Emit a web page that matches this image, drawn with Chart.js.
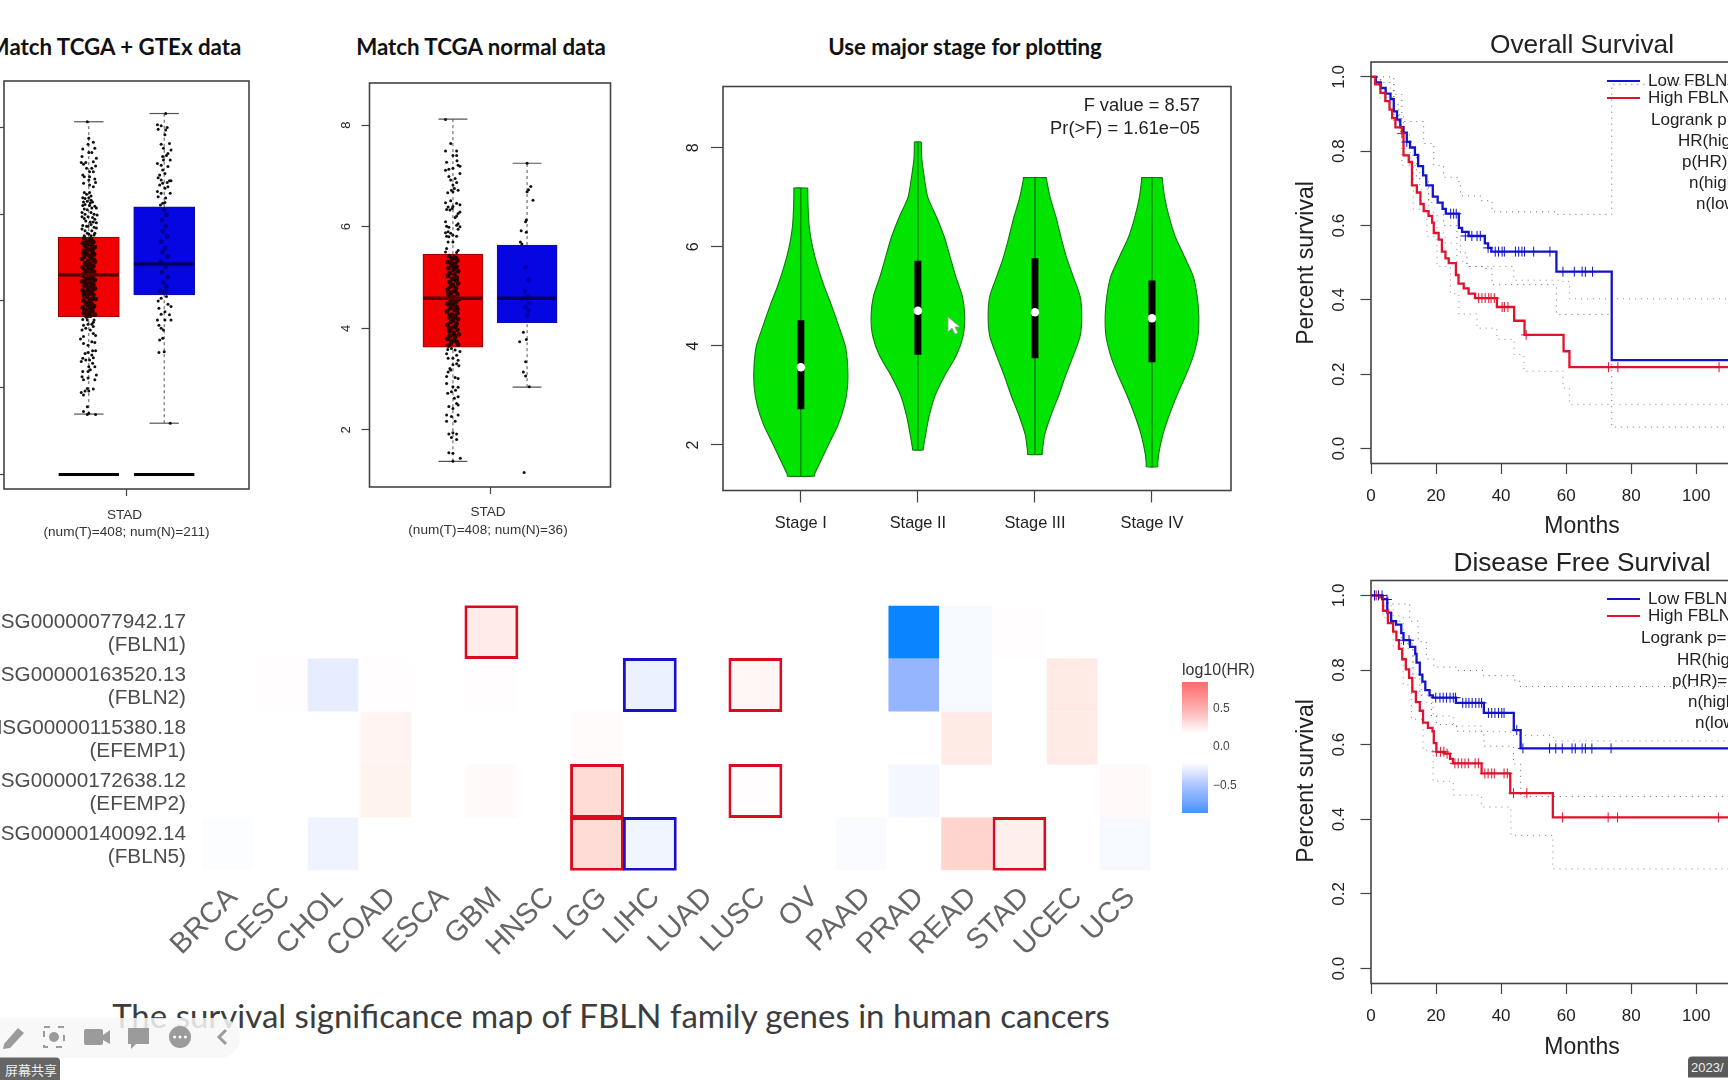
<!DOCTYPE html>
<html>
<head>
<meta charset="utf-8">
<title>FBLN survival figures</title>
<script src="https://cdn.jsdelivr.net/npm/chart.js@4"></script>
<style>
html, body { margin: 0; width: 1728px; height: 1080px; overflow: hidden; background: #fff; position: relative; }
canvas { position: absolute; filter: blur(.4px); }
.t { position: absolute; white-space: nowrap; font-family: "Liberation Sans", sans-serif; color: #222; transform: translate(-50%, -50%); }
.l { transform: translate(0, -50%); }
</style>
</head>
<body>
<script>
// box stats: low whisker, q1, median, q3, high whisker
const gtexTumor = [1.39, 3.63, 4.60, 5.47, 8.13];
const gtexNormal = [1.18, 4.14, 4.85, 6.17, 8.32];
const tcgaTumor = [1.38, 3.63, 4.59, 5.46, 8.12];
const tcgaNormal = [2.84, 4.11, 4.59, 5.64, 7.25];
const boxTicks = [0, 2, 4, 6, 8];
const boxTicksB = [2, 4, 6, 8];

// jitter dots: [offset from box centre, value]
const gtexTumorDots = [[-.02,8.13],[0,7.75],[.06,7.66],[-.01,7.61],[-.08,7.5],[.08,7.52],[.04,7.42],[0,7.42],[.1,7.29],[-.09,7.33],[-.1,7.19],[-.04,7.19],[-.07,7.15],[.06,7.21],[.09,7.11],[.04,7.06],[-.03,7.06],[.01,6.98],[.06,6.98],[-.08,6.9],[-.06,6.86],[.01,6.86],[.08,6.81],[0,6.79],[-.07,6.71],[.01,6.67],[.09,6.73],[.06,6.63],
[-.06,6.5],[-.03,6.46],[.01,6.5],[.03,6.42],[-.08,6.38],[-.05,6.36],[0,6.38],[.03,6.32],[-.07,6.28],[-.02,6.3],[.02,6.26],[.05,6.28],[-.08,6.2],[-.05,6.22],[.01,6.2],[.08,6.18],[.1,6.14],[.04,6.14],[-.06,6.12],[-.02,6.1],[-.09,6.04],[-.05,6],[.03,6.04],[.07,6],[.11,5.98],[-.09,5.94],[-.06,5.9],[-.01,5.94],[.05,5.92],[.08,5.88],[-.04,5.84],[.02,5.82],[.06,5.82],[.1,5.8],[-.08,5.74],[-.03,5.72],[-.01,5.72],[.03,5.76],[.07,5.7],[.1,5.68],[-.09,5.66],[-.05,5.62],[.04,5.62],[-.02,5.56],[.08,5.56],[0,5.54],[-.06,5.5],[.03,5.5],[.07,5.52],
[.07,3.56],[-.08,3.57],[-.02,3.56],[.06,3.51],[.04,3.46],[-.07,3.44],[-.01,3.46],[.06,3.41],[-.04,3.37],[-.09,3.33],[.02,3.33],[.06,3.25],[.09,3.2],[-.07,3.18],[-.11,3.12],[.04,3.06],[.08,3.04],[-.07,3.02],[-.01,2.98],[.05,2.85],[-.01,2.81],[.09,2.85],[-.05,2.79],[.04,2.75],[-.08,2.68],[.06,2.69],[.01,2.64],[-.04,2.64],[-.1,2.6],[.05,2.56],[0,2.48],[.08,2.48],[.02,2.41],[-.01,2.37],[-.08,2.37],[-.09,2.25],[.1,2.29],[.08,2.18],[-.07,2.18],[-.01,2.22],[-.02,1.98],[.06,1.97],[-.05,1.92],[-.1,1.89],[-.07,1.83],[0,1.92],[-.02,1.56],[-.07,1.45],[0,1.41],[.09,1.38],[-.02,1.38]];
const gtexTumorInBox = [[-.06,5.44],[.03,5.42],[-.02,5.38],[.06,5.36],[-.08,5.33],[0,5.31],[.04,5.28],[-.05,5.26],[.08,5.24],[-.02,5.2],[.02,5.18],[-.07,5.15],[.05,5.13],[-.03,5.1],[.07,5.07],[0,5.05],[-.06,5.02],[.03,5],[-.09,4.97],[.05,4.95],[-.01,4.92],[.08,4.9],[-.05,4.87],[.02,4.85],[-.03,4.82],[.06,4.8],[-.08,4.77],[0,4.75],[.04,4.72],[-.05,4.7],[.07,4.67],[-.02,4.65],[.03,4.62],[-.07,4.58],[.05,4.56],[0,4.53],[-.04,4.5],[.08,4.48],[-.09,4.45],[.02,4.43],[-.02,4.4],[.06,4.38],[-.06,4.35],[.03,4.33],[-.01,4.3],[.08,4.28],[-.08,4.25],[.04,4.22],[-.03,4.2],[.01,4.17],[.06,4.14],[-.06,4.12],[-.02,4.09],[.05,4.06],[.09,4.04],[-.07,4.01],[.01,3.99],[-.04,3.96],[.04,3.93],[-.01,3.9],[.07,3.88],[-.08,3.85],[.02,3.82],[-.04,3.79],[.05,3.76],[0,3.73],[-.06,3.71],[.08,3.68],[.02,3.66],[-.03,3.64],
[.01,5.4],[-.04,5.34],[.06,5.22],[-.07,5.09],[.02,5.04],[.07,4.94],[-.04,4.83],[.01,4.74],[-.08,4.61],[.03,4.49],[-.05,4.41],[.06,4.31],[-.01,4.23],[-.07,4.18],[.03,4.03],[-.03,3.92],[.05,3.84],[-.06,3.78]];
const gtexNormalDots = [[.02,8.32],[-.09,8.06],[-.04,8.04],[.04,8],[.02,7.94],[-.08,7.96],[.01,7.83],[-.04,7.61],[.07,7.63],[.09,7.48],[-.01,7.52],[.05,7.4],[-.02,7.33],[.03,7.35],[.08,7.25],[-.09,7.17],[-.01,7.25],[.05,7.1],[-.04,7.13],[-.02,7.02],[-.06,6.9],[.01,6.94],[-.08,6.84],[.07,6.77],[.04,6.73],[-.04,6.79],[.09,6.77],[-.06,6.67],[.05,6.63],[-.02,6.71],[-.09,6.52],[.01,6.6],[.08,6.48],[-.04,6.48],[-.08,6.4],[.02,6.37],[-.02,6.25],[-.05,6.21],[.01,6.27],
[-.04,4.06],[.03,4.1],[-.08,4],[.05,3.92],[.09,3.87],[-.07,3.83],[.01,3.75],[-.04,3.69],[.07,3.68],[-.09,3.56],[.09,3.56],[.01,3.56],[-.07,3.44],[-.04,3.37],[-.01,3.33],[-.06,3.1],[-.02,3.14],[-.07,2.81],[0,2.83],[.08,1.18]];
const gtexNormalInBox = [[0,6.1],[.03,5.98],[-.03,5.86],[.02,5.72],[-.02,5.6],[.04,5.48],[-.04,5.36],[.01,5.22],[-.02,5.12],[.05,5.02],[-.05,4.9],[.02,4.78],[-.03,4.66],[.05,4.55],[-.01,4.42],[.03,4.32],[-.05,4.22],[.01,4.2]];
const tcgaTumorDots = [[-.1,8.11],[-.03,7.64],[-.1,7.49],[.05,7.49],[0,7.4],[.05,7.4],[-.085,7.27],[.055,7.3],[.07,7.21],[.095,7.19],[-.055,7.13],[-.1,7.11],[0,7.15],[.095,7.05],[-.055,6.99],[.03,6.95],[-.03,6.92],[.05,6.87],[0,6.82],[.07,6.72],[.02,6.75],[-.07,6.67],[-.02,6.72],[0,6.69],[-.1,6.47],[-.03,6.51],[.05,6.46],[.095,6.43],[-.065,6.39],[0,6.4],[-.085,6.34],[-.04,6.33],[-.01,6.36],[.07,6.26],[.05,6.21],[.095,6.29],[.03,6.18],[-.1,6.1],[.07,6.06],[.05,6.03],[-.085,6.01],[-.055,5.99],[.095,6],[.07,5.95],[-.065,5.9],[-.1,5.88],[-.03,5.87],[0,5.83],[-.085,5.81],[-.055,5.8],[.05,5.81],[-.065,5.7],[0,5.7],[-.085,5.57],[.07,5.53],[-.1,5.5],[.05,5.49],
[-.085,3.5],[-.065,3.41],[0,3.41],[.05,3.47],[.07,3.37],[-.02,3.6],[.095,3.54],[.03,3.57],[-.07,3.58],[-.04,3.21],[-.065,3.14],[0,3.28],[.05,3.3],[.08,3.26],[-.085,3.05],[-.03,3.18],[.03,3.03],[.07,3.01],[-.085,2.91],[0,2.85],[.07,2.84],[-.07,2.72],[-.02,2.75],[.035,2.78],[.07,2.65],[.02,2.62],[.05,2.52],[-.055,2.46],[0,2.42],[.07,2.49],[-.085,2.29],[.07,2.29],[-.02,2.26],[-.085,2.17],[.03,2.17],[-.055,1.92],[0,1.94],[.05,1.92],[-.02,1.85],[.05,1.81],[-.055,1.55],[0,1.54],[.1,1.44],[0,1.38]];
const tcgaTumorInBox = [[-.05,5.42],[.02,5.4],[-.01,5.36],[.06,5.33],[-.07,5.3],[.03,5.27],[-.02,5.24],[.05,5.21],[-.06,5.18],[.01,5.15],[.07,5.12],[-.04,5.09],[.02,5.06],[-.07,5.03],[.05,5],[-.01,4.97],[.04,4.94],[-.05,4.91],[.07,4.88],[0,4.85],[-.03,4.82],[.04,4.79],[-.07,4.76],[.02,4.73],[-.02,4.7],[.06,4.67],[-.05,4.64],[.01,4.61],[.08,4.57],[-.03,4.54],[.04,4.51],[-.07,4.48],[0,4.45],[.05,4.42],[-.04,4.39],[.02,4.36],[-.08,4.33],[.06,4.3],[-.01,4.27],[.03,4.24],[-.05,4.21],[.07,4.18],[0,4.15],[-.03,4.12],[.05,4.09],[-.07,4.06],[.02,4.03],[-.02,4],[.06,3.97],[-.05,3.94],[.01,3.91],[.08,3.88],[-.04,3.85],[.03,3.82],[-.07,3.79],[0,3.76],[.05,3.73],[-.03,3.7],[.07,3.68],[-.06,3.66],
[.04,5.38],[-.03,5.29],[.02,5.19],[-.05,5.07],[.05,4.96],[-.01,4.86],[.03,4.75],[-.06,4.68],[.03,4.55],[-.02,4.47],[.06,4.38],[-.04,4.26],[.01,4.19],[.04,4.05],[-.05,3.99],[.02,3.86],[-.02,3.74]];
const tcgaNormalDots = [[0,7.25],[.05,6.79],[.02,6.73],[0,6.69],[.08,6.52],[-.01,6.13],[-.02,6.1],[-.08,5.92],[-.01,5.89],[-.09,5.7],[-.07,5.66],[-.05,3.92],[-.1,3.735],[-.01,3.78],[-.02,3.34],[-.05,3.14],[-.02,3.06],[.03,2.85],[-.04,1.16]];
const tcgaNormalInBox = [[-.02,5.2],[.02,4.95],[-.03,4.72],[.01,4.62],[.03,4.5],[-.02,4.42],[.02,4.35],[0,4.25]];

// violins: outline as [value, half width] for each stage
const stages = ['Stage I', 'Stage II', 'Stage III', 'Stage IV'];
const violinI = [[7.19,.059],[7.16,.059],[6.8,.062],[6.4,.072],[6,.1],[5.6,.144],[5.2,.2],[4.8,.265],[4.4,.324],[4,.38],[3.6,.4],[3.2,.4],[2.8,.373],[2.4,.317],[2,.235],[1.6,.155],[1.4,.115],[1.37,.115]];
const violinII = [[8.12,.03],[8.09,.03],[7.8,.033],[7.4,.055],[7,.085],[6.6,.16],[6.2,.226],[5.8,.275],[5.4,.324],[5,.38],[4.6,.4],[4.2,.386],[3.8,.327],[3.4,.229],[3,.147],[2.6,.098],[2.2,.065],[1.93,.046],[1.9,.046]];
const violinIII = [[7.4,.098],[7.37,.098],[7,.13],[6.6,.18],[6.2,.222],[5.8,.268],[5.4,.327],[5,.386],[4.6,.4],[4.2,.386],[3.8,.327],[3.4,.262],[3,.203],[2.6,.137],[2.2,.082],[1.84,.062],[1.81,.062]];
const violinIV = [[7.4,.088],[7.37,.088],[7,.108],[6.6,.147],[6.2,.2],[5.8,.278],[5.4,.353],[5,.386],[4.6,.4],[4.2,.393],[3.8,.353],[3.4,.288],[3,.213],[2.6,.147],[2.2,.092],[1.8,.056],[1.59,.049],[1.56,.049]];
const stageIqr = [[2.72, 3.57, 4.52], [3.82, 4.71, 5.72], [3.75, 4.68, 5.77], [3.67, 4.56, 5.32]];

// heatmap
const cancers = ['BRCA','CESC','CHOL','COAD','ESCA','GBM','HNSC','LGG','LIHC','LUAD','LUSC','OV','PAAD','PRAD','READ','STAD','UCEC','UCS'];
const genes = [['ENSG00000077942.17','(FBLN1)'],['ENSG00000163520.13','(FBLN2)'],['ENSG00000115380.18','(EFEMP1)'],['ENSG00000172638.12','(EFEMP2)'],['ENSG00000140092.14','(FBLN5)']];
const hrFBLN1 = { GBM:.11, PRAD:-.85, READ:-.03, STAD:.01 };
const hrFBLN2 = { CESC:.01, CHOL:-.09, COAD:.01, GBM:.01, LIHC:-.07, LUSC:.05, PRAD:-.37, READ:-.03, UCEC:.12 };
const hrEFEMP1 = { COAD:.06, LGG:.02, READ:.12, UCEC:.12 };
const hrEFEMP2 = { COAD:.07, GBM:.03, LGG:.2, LUSC:.01, PRAD:-.04, UCS:.03 };
const hrFBLN5 = { BRCA:-.01, CHOL:-.06, LGG:.2, LIHC:-.05, PAAD:-.02, READ:.24, STAD:.09, UCS:-.03 };
const hrRows = [hrFBLN1, hrFBLN2, hrEFEMP1, hrEFEMP2, hrFBLN5];
const sigHigh = [['GBM',0],['LUSC',1],['LGG',3],['LUSC',3],['LGG',4],['STAD',4]];
const sigLow = [['LIHC',1],['LIHC',4]];
const hrLegendTicks = [0.5, 0, -0.5];

// survival curves: [months, survival] at each step
const monthTicks = [0, 20, 40, 60, 80, 100, 120];
const survTicks = [0, .2, .4, .6, .8, 1];
const osLow = [[0,1],[1.5,.985],[3,.97],[4.5,.955],[6,.94],[7,.907],[8,.885],[9,.865],[10,.85],[11,.825],[12,.81],[13.5,.79],[14.5,.76],[16,.735],[17,.708],[19,.678],[20.5,.662],[22,.645],[23,.632],[27,.594],[28,.583],[30,.572],[35,.552],[36,.54],[37,.53],[57,.476],[74,.238],[130,.238]];
const osHigh = [[0,1],[1.3,.98],[2.9,.957],[4.4,.935],[5.7,.912],[6.5,.889],[7.5,.864],[9.5,.848],[10,.789],[11.6,.771],[12.6,.708],[14.1,.689],[15.2,.658],[16.2,.639],[17.7,.626],[18.8,.608],[19.3,.58],[20.8,.562],[21.8,.53],[22.9,.512],[23.9,.499],[26.1,.467],[26.9,.444],[28.5,.431],[30,.417],[32,.405],[38.7,.381],[44,.344],[47.2,.306],[59.2,.262],[61,.219],[130,.219]];
const osLowUpper = [[0,1],[3,.985],[7,.953],[9.5,.88],[16.2,.821],[19.3,.762],[22.3,.73],[27,.717],[27.5,.68],[33.6,.667],[37.2,.637],[57.2,.63],[74,.98],[130,.98]];
const osLowLower = [[0,1],[7,.926],[8.5,.853],[10,.789],[14,.726],[17.7,.662],[22.3,.6],[26.4,.562],[27.5,.526],[29.5,.49],[34.6,.485],[37.2,.441],[57,.361],[74,.058],[130,.058]];
const osHighUpper = [[0,1],[2.9,.97],[7,.898],[10,.844],[12,.762],[15,.698],[17.7,.635],[20.3,.58],[22.8,.553],[26.4,.503],[29.5,.49],[43.9,.453],[59,.449],[61,.403],[130,.403]];
const osHighLower = [[0,1],[2.9,.944],[7,.871],[9.5,.762],[13,.644],[17.2,.571],[20.3,.49],[24.4,.417],[27,.362],[32.6,.324],[38.7,.294],[44,.253],[47,.208],[59,.163],[61,.119],[130,.119]];
const osLowCens = [[11,.825],[24.5,.632],[25.4,.632],[26.2,.632],[29,.572],[31,.572],[32.6,.572],[33.6,.572],[36,.54],[38.2,.53],[39.2,.53],[40.3,.53],[41,.53],[44.4,.53],[45.4,.53],[46.4,.53],[47.2,.53],[50,.53],[55,.53],[59,.476],[62.5,.476],[64.9,.476],[65.9,.476],[68.1,.476]];
const osHighCens = [[9.5,.848],[33.1,.405],[34.1,.405],[35.1,.405],[36.2,.405],[36.9,.405],[37.9,.405],[40.3,.381],[41,.381],[42.1,.381],[47.7,.306],[73,.219],[75.9,.219],[107,.219]];

const dfsLow = [[0,1],[3.5,.99],[5,.954],[6.2,.931],[7.7,.922],[9.3,.899],[10,.88],[12,.862],[13.6,.843],[14,.82],[15,.788],[15.8,.769],[16.7,.746],[18,.732],[19,.726],[26.1,.712],[34.7,.685],[43.9,.639],[46,.59],[130,.59]];
const dfsHigh = [[0,1],[2.7,.995],[3.7,.959],[5.2,.926],[6.8,.903],[7.8,.88],[8.6,.857],[9.6,.829],[10.7,.802],[11.7,.779],[12.7,.742],[13.8,.714],[15,.691],[16,.659],[17.5,.645],[18.9,.636],[19.3,.604],[20.1,.581],[22.7,.576],[24.3,.562],[25.2,.55],[34,.523],[42.8,.47],[55.9,.405],[130,.405]];
const dfsLowUpper = [[0,1],[5.2,.977],[11.9,.931],[14.5,.876],[17,.83],[19.3,.808],[26.8,.799],[34.5,.785],[44.2,.77],[45.8,.756],[130,.756]];
const dfsLowLower = [[0,1],[5.2,.931],[9.4,.857],[12.9,.779],[15,.733],[18.6,.677],[20.1,.654],[26.3,.636],[34.7,.596],[43.8,.548],[46,.461],[130,.461]];
const dfsHighUpper = [[0,1],[3.7,.972],[6.8,.945],[9.9,.871],[12.9,.788],[15.5,.714],[19.1,.677],[25.3,.65],[34,.635],[43,.625],[56.1,.61],[130,.61]];
const dfsHighLower = [[0,1],[3.7,.94],[6.8,.862],[9.9,.76],[12.4,.668],[16,.585],[19.1,.502],[25.3,.465],[34,.433],[43,.357],[55.9,.267],[130,.267]];
const dfsLowCens = [[1.1,1],[2.3,1],[3.4,1],[4.9,.989],[10,.88],[11.7,.88],[19.9,.726],[21.2,.726],[22.2,.726],[23.2,.726],[24.3,.726],[25.3,.726],[26,.726],[28.2,.712],[29.2,.712],[30.1,.712],[31.1,.712],[32.2,.712],[33.2,.712],[34,.712],[36.1,.685],[37.1,.685],[38.1,.685],[39.2,.685],[40.2,.685],[40.9,.685],[44.8,.639],[46.7,.59],[54.9,.59],[56.8,.59],[58.8,.59],[61.8,.59],[62.8,.59],[64.9,.59],[65.9,.59],[67.9,.59],[73.8,.59]];
const dfsHighCens = [[1.1,1],[1.6,1],[20.1,.581],[21.4,.581],[22.4,.581],[23.4,.576],[25.8,.55],[26.8,.55],[27.9,.55],[28.9,.55],[29.9,.55],[32,.55],[33,.55],[35,.523],[36,.523],[37.1,.523],[37.9,.523],[40.9,.523],[41.9,.523],[43.8,.47],[47.9,.47],[58.9,.405],[72.9,.405],[75.8,.405],[106.8,.405]];

Chart.defaults.font.family = '"Liberation Sans", sans-serif';
Chart.defaults.animation = false;
Chart.defaults.plugins.legend.display = false;
Chart.defaults.plugins.tooltip.enabled = false;

const INK = '#444';

function text(str, x, y, size, css) {
  const d = document.createElement('div');
  d.className = 't';
  d.textContent = str;
  d.style.left = x + 'px';
  d.style.top = y + 'px';
  d.style.fontSize = size + 'px';
  if (css) d.style.cssText += css;
  document.body.appendChild(d);
  return d;
}

function addCanvas(box) {
  const c = document.createElement('canvas');
  c.width = box.w; c.height = box.h;
  c.style.left = box.x + 'px';
  c.style.top = box.y + 'px';
  c.style.width = box.w + 'px';
  c.style.height = box.h + 'px';
  document.body.appendChild(c);
  return c;
}

function line(points, color, width, extra) {
  return Object.assign({ type: 'scatter', data: points.map(p => ({ x: p[0], y: p[1] })), showLine: true, pointRadius: 0, borderColor: color, borderWidth: width, backgroundColor: color }, extra);
}
function dots(points, color, r, extra) {
  return Object.assign({ type: 'scatter', data: points.map(p => ({ x: p[0], y: p[1] })), pointRadius: r, pointBorderWidth: 0, backgroundColor: color, borderColor: color }, extra);
}

// R style frame and rotated y tick labels
function framePlugin(labelX, font, fmt) {
  return {
    id: 'rframe',
    afterDatasetsDraw(chart) {
      const a = chart.chartArea, ctx = chart.ctx;
      ctx.save();
      ctx.strokeStyle = INK; ctx.lineWidth = 1.6;
      ctx.strokeRect(a.left, a.top, a.right - a.left, a.bottom - a.top);
      ctx.restore();
    },
    afterDraw(chart) {
      if (!font) return;
      const ctx = chart.ctx, s = chart.scales.y;
      ctx.save();
      ctx.font = font; ctx.fillStyle = '#222';
      ctx.textAlign = 'center'; ctx.textBaseline = 'middle';
      s.ticks.forEach(t => {
        ctx.save();
        ctx.translate(labelX, s.getPixelForValue(t.value));
        ctx.rotate(-Math.PI / 2);
        ctx.fillText(fmt ? fmt(t.value) : String(t.value), 0, 0);
        ctx.restore();
      });
      ctx.restore();
    }
  };
}

function axis(ticks, min, max, tickLen, tickOpts) {
  return {
    type: 'linear', min, max, offset: false,
    afterBuildTicks: s => { s.ticks = ticks.map(v => ({ value: v })); },
    grid: { offset: false, drawOnChartArea: false, drawTicks: true, tickLength: tickLen, tickColor: INK, tickWidth: 1.2 },
    border: { display: false },
    ticks: Object.assign({ display: false }, tickOpts)
  };
}

function plot(box, area, datasets, xAxis, yAxis, plugins) {
  xAxis.afterFit = s => { s.height = box.y + box.h - area.bottom; s.paddingLeft = s.paddingRight = 0; };
  yAxis.afterFit = s => { s.width = area.left - box.x; s.paddingTop = s.paddingBottom = 0; };
  return new Chart(addCanvas(box), {
    type: 'scatter',
    data: { datasets },
    options: {
      responsive: false,
      layout: { autoPadding: false, padding: { top: area.top - box.y, right: box.x + box.w - area.right, left: 0, bottom: 0 } },
      scales: { x: xAxis, y: yAxis }
    },
    plugins
  });
}

function boxSets(x, s, fill, edge, medColor, width, points, inBox, inBoxColor, r) {
  const [lo, q1, med, q3, hi] = s;
  return [
    line([[x - .4, med], [x + .4, med]], medColor, 3.5),
    dots(points.map(p => [x + p[0], p[1]]), '#111', r),
    dots(inBox.map(p => [x + p[0], p[1]]), inBoxColor, r + .9),
    { type: 'bar', data: [{ x, y: [q1, q3] }], backgroundColor: fill, borderColor: edge, borderWidth: 1, barThickness: width, grouped: false, borderSkipped: false },
    line([[x, q3], [x, hi]], '#555', 1, { borderDash: [3, 3] }),
    line([[x, lo], [x, q1]], '#555', 1, { borderDash: [3, 3] }),
    line([[x - .195, hi], [x + .195, hi]], '#555', 1.2),
    line([[x - .195, lo], [x + .195, lo]], '#555', 1.2)
  ];
}

// panel A: TCGA + GTEx
plot({ x: 0, y: 70, w: 262, h: 440 }, { left: 4, top: 81, right: 249, bottom: 489 },
  [
    ...boxSets(1, gtexTumor, '#f00000', '#8c0000', '#5a0000', 61, gtexTumorDots, gtexTumorInBox, '#2c0000', 1.5),
    ...boxSets(2, gtexNormal, '#0606e2', '#1010a0', '#00005a', 61, gtexNormalDots, gtexNormalInBox, '#00008c', 1.5),
    line([[.6, 0], [1.4, 0]], '#000', 3),
    line([[1.6, 0], [2.4, 0]], '#000', 3)
  ],
  axis([1.5], -.125, 3.125, 7),
  axis(boxTicks, -.337, 9.07, 4),
  [framePlugin()]);

// panel B: TCGA normal
plot({ x: 330, y: 70, w: 292, h: 440 }, { left: 369.5, top: 83, right: 610.5, bottom: 487 },
  [
    ...boxSets(1, tcgaTumor, '#f00000', '#8c0000', '#5a0000', 60, tcgaTumorDots, tcgaTumorInBox, '#2c0000', 1.5),
    ...boxSets(2, tcgaNormal, '#0606e2', '#1010a0', '#00005a', 60, tcgaNormalDots, tcgaNormalInBox, '#0000b0', 1.5)
  ],
  axis([1.5], -.125, 3.125, 7),
  axis(boxTicksB, .874, 8.83, 8),
  [framePlugin(16, '13px "Liberation Sans"')]);

// panel C: violins
function violinSets(x, outline, iqr) {
  const right = outline.map(p => [x + p[1], p[0]]);
  const left = outline.map(p => [x - p[1], p[0]]).reverse();
  const shape = right.concat(left, [right[0]]);
  return [
    dots([[x, iqr[1]]], '#fff', 4.3),
    line([[x, iqr[0]], [x, iqr[2]]], '#000', 7),
    line([[x, outline[0][0]], [x, outline[outline.length - 1][0]]], '#0a6e0a', 1.2),
    line(shape, '#0c7a0c', 1.1, { fill: 'shape', backgroundColor: '#00e400', tension: .25 })
  ];
}
plot({ x: 680, y: 70, w: 570, h: 470 }, { left: 723, top: 86.5, right: 1231, bottom: 490.5 },
  [
    ...violinSets(1, violinI, stageIqr[0]),
    ...violinSets(2, violinII, stageIqr[1]),
    ...violinSets(3, violinIII, stageIqr[2]),
    ...violinSets(4, violinIV, stageIqr[3])
  ],
  axis([1, 2, 3, 4], .335, 4.675, 12, { display: true, color: '#222', padding: 11, maxRotation: 0, font: { size: 16.4 }, callback: v => stages[v - 1] }),
  axis(boxTicksB, 1.08, 9.24, 12),
  [framePlugin(14, '16px "Liberation Sans"')]);

// heatmap
const hrStopsNeg = [[0, [255, 255, 255]], [.4, [140, 175, 255]], [.85, [10, 132, 255]]];
function hrColor(v) {
  if (v >= 0) {
    const t = v / .85;
    return `rgb(255,${Math.round(255 - 150 * t)},${Math.round(255 - 178 * t)})`;
  }
  const a = -v;
  const i = a < .4 ? 0 : 1;
  const t = (a - hrStopsNeg[i][0]) / (hrStopsNeg[i + 1][0] - hrStopsNeg[i][0]);
  const c = hrStopsNeg[i][1].map((k, j) => Math.round(k + (hrStopsNeg[i + 1][1][j] - k) * t));
  return `rgb(${c.join(',')})`;
}
const cellSets = hrRows.map((row, r) => ({
  type: 'bar',
  data: Object.keys(row).map(c => ({ x: c, y: [r - .5, r + .5], v: row[c] })),
  backgroundColor: ctx => hrColor(ctx.raw ? ctx.raw.v : 0),
  barPercentage: .96, categoryPercentage: 1, grouped: false
}));
function sigSet(list, color) {
  return {
    type: 'bar',
    data: list.map(([c, r]) => ({ x: c, y: [r - .51, r + .51], v: hrRows[r][c] })),
    backgroundColor: ctx => hrColor(ctx.raw ? ctx.raw.v : 0),
    borderColor: color, borderWidth: 3, borderSkipped: false,
    barPercentage: 1.02, categoryPercentage: 1, grouped: false
  };
}
const heatBox = { x: 0, y: 590, w: 1165, h: 400 };
new Chart(addCanvas(heatBox), {
  type: 'bar',
  data: { labels: cancers, datasets: [sigSet(sigLow, '#1a10c8'), sigSet(sigHigh, '#dc0a1e'), ...cellSets] },
  options: {
    responsive: false,
    layout: { autoPadding: false, padding: { top: 15.5, right: 13.6, left: 0, bottom: 0 } },
    scales: {
      x: {
        grid: { display: false, drawTicks: false }, border: { display: false },
        ticks: { autoSkip: false, minRotation: 45, maxRotation: 45, color: '#666', padding: 10, labelOffset: 5.5, font: { size: 29 } },
        afterFit: s => { s.height = 119.5; s.paddingLeft = s.paddingRight = 0; }
      },
      y: {
        type: 'linear', min: -.5, max: 4.5, reverse: true,
        afterBuildTicks: s => { s.ticks = genes.map((g, i) => ({ value: i + .04 })); },
        grid: { display: false, drawTicks: false }, border: { display: false },
        ticks: { color: '#4d4d4d', padding: 15, font: { size: 20.7, lineHeight: 1.11 }, callback: v => genes[Math.round(v)] },
        afterFit: s => { s.width = 201; s.paddingTop = s.paddingBottom = 0; }
      }
    }
  }
});

// colour bar for log10(HR)
const hrBarStops = [[.84, '#ff6a6a'], [.5, '#ffaeae'], [.18, '#ffffff'], [-.2, '#ffffff'], [-.5, '#a9c3ff'], [-.85, '#4a92ff']];
new Chart(addCanvas({ x: 1175, y: 672, w: 70, h: 150 }), {
  type: 'bar',
  data: {
    labels: ['log10(HR)'],
    datasets: [{
      data: [[-.85, .84]],
      barPercentage: 1, categoryPercentage: 1,
      backgroundColor: ctx => {
        const a = ctx.chart.chartArea;
        if (!a) return '#fff';
        const g = ctx.chart.ctx.createLinearGradient(0, a.top, 0, a.bottom);
        hrBarStops.forEach(([v, c]) => g.addColorStop((.84 - v) / 1.69, c));
        return g;
      }
    }]
  },
  options: {
    responsive: false,
    layout: { autoPadding: false, padding: { top: 10, left: 7, bottom: 9, right: 0 } },
    scales: {
      x: { display: false },
      y: {
        position: 'right', min: -.85, max: .84,
        afterBuildTicks: s => { s.ticks = hrLegendTicks.map(v => ({ value: v })); },
        grid: { display: false, drawTicks: false }, border: { display: false },
        ticks: { color: '#444', padding: 5, font: { size: 12 }, callback: v => v.toFixed(1).replace('-', '\u2212') },
        afterFit: s => { s.width = 37; s.paddingTop = s.paddingBottom = 0; }
      }
    }
  }
});

// survival panels
function survival(box, area, low, high, lowUp, lowDown, highUp, highDown, lowCens, highCens) {
  const blue = '#1212cf', red = '#e0122c';
  const ciB = '#66668a', ciR = '#9a7f88';
  plot(box, area,
    [
      dots(lowCens, blue, 5, { pointStyle: 'cross', pointBorderWidth: 1 }),
      dots(highCens, red, 5, { pointStyle: 'cross', pointBorderWidth: 1 }),
      line(high, red, 2.3, { stepped: true }),
      line(low, blue, 2.3, { stepped: true }),
      line(lowUp, ciB, 1, { stepped: true, borderDash: [1, 5] }),
      line(lowDown, ciB, 1, { stepped: true, borderDash: [1, 5] }),
      line(highUp, ciR, 1, { stepped: true, borderDash: [1, 5] }),
      line(highDown, ciR, 1, { stepped: true, borderDash: [1, 5] })
    ],
    axis(monthTicks, 0, (area.right - area.left) / 3.253, 10.5, { display: true, color: '#222', padding: 12, maxRotation: 0, font: { size: 17 }, callback: v => String(v) }),
    axis(survTicks, -.04, 1.04, 10.5),
    [framePlugin(49, '17px "Liberation Sans"', v => v.toFixed(1))]);
}
survival({ x: 1290, y: 20, w: 500, h: 520 }, { left: 1371, top: 62, right: 1780, bottom: 463.5 },
  osLow, osHigh, osLowUpper, osLowLower, osHighUpper, osHighLower, osLowCens, osHighCens);
survival({ x: 1290, y: 545, w: 500, h: 520 }, { left: 1371, top: 580.5, right: 1780, bottom: 983.5 },
  dfsLow, dfsHigh, dfsLowUpper, dfsLowLower, dfsHighUpper, dfsHighLower, dfsLowCens, dfsHighCens);

// slide text
const HEAD = 'font-family:Lato,sans-serif;font-weight:700;color:#111;';
text('Match TCGA + GTEx data', 115, 46, 22.3, HEAD);
text('Match TCGA normal data', 481, 46, 22.3, HEAD);
text('Use major stage for plotting', 965, 46, 22.3, HEAD);
text('STAD', 124.5, 514, 13.6, 'color:#333');
text('(num(T)=408; num(N)=211)', 126.5, 531, 13.6, 'color:#333');
text('STAD', 488, 511, 13.6, 'color:#333');
text('(num(T)=408; num(N)=36)', 488, 528.5, 13.6, 'color:#333');
text('F value = 8.57', 1200, 105, 18.3, 'transform:translate(-100%,-50%)');
text('Pr(>F) = 1.61e\u221205', 1200, 128, 18.3, 'transform:translate(-100%,-50%)');
text('log10(HR)', 1182, 670, 16, 'transform:translate(0,-50%);color:#333');
text('The survival significance map of FBLN family genes in human cancers', 611, 1015, 33, 'font-family:Lato,sans-serif;color:#3c3c3c');

function survivalText(titleStr, titleY, labelY, monthsY, rows, keyY) {
  text(titleStr, 1582, titleY, 26.3);
  text('Percent survival', 1305, labelY, 23, 'transform:translate(-50%,-50%) rotate(-90deg)');
  text('Months', 1582, monthsY, 23);
  rows.forEach(r => text(r[0], r[1], r[2], 17, 'transform:translate(0,-50%)'));
  keyY.forEach((k, i) => {
    const d = document.createElement('div');
    d.style.cssText = `position:absolute;left:1607px;top:${k - 1}px;width:33px;height:2px;background:${i ? '#e0122c' : '#1212cf'}`;
    document.body.appendChild(d);
  });
}
survivalText('Overall Survival', 43.5, 263, 525,
  [['Low FBLN5', 1648, 81], ['High FBLN5', 1648, 98], ['Logrank p', 1651, 119.5], ['HR(high', 1678, 141], ['p(HR)', 1682, 162], ['n(high', 1689, 183], ['n(low', 1696, 204]],
  [81, 98]);
survivalText('Disease Free Survival', 562, 781, 1046,
  [['Low FBLN5', 1648, 599], ['High FBLN5', 1648, 616], ['Logrank p=', 1641, 638], ['HR(high', 1677, 659.5], ['p(HR)=', 1672, 680.5], ['n(high', 1688, 702], ['n(low', 1695, 723]],
  [599, 616]);

// screen-share overlay from the recording
const overlay = document.createElement('div');
overlay.innerHTML = `
<svg style="position:absolute;left:947px;top:316px" width="16" height="20"><polygon points="1,1 1,16 5,12 8,18 11,17 8,11 13,11" fill="#fff" stroke="#999" stroke-width=".8"/></svg>
<div style="position:absolute;left:-20px;top:1018px;width:260px;height:40px;border-radius:20px;background:#f7f7f7;opacity:.85"></div>
<svg style="position:absolute;left:0;top:1018px" width="240" height="40" fill="#9b9b9b">
  <polygon points="4,26 18,10 24,15 10,30 3,31"/>
  <rect x="44" y="9" width="20" height="20" fill="none" stroke="#9b9b9b" stroke-width="2" stroke-dasharray="6 8"/><circle cx="54" cy="19" r="5"/>
  <rect x="84" y="11" width="19" height="16" rx="2"/><polygon points="103,17 110,12 110,26 103,22"/>
  <path d="M128 10h21v16h-13l-5 5v-5h-3z"/>
  <circle cx="180" cy="19" r="11"/><circle cx="174.5" cy="19" r="1.5" fill="#fff"/><circle cx="180" cy="19" r="1.5" fill="#fff"/><circle cx="185.5" cy="19" r="1.5" fill="#fff"/>
  <path d="M226 12l-7 7 7 7" fill="none" stroke="#9b9b9b" stroke-width="3"/>
</svg>
<div class="t l" style="left:0;top:1068.5px;width:60px;height:23px;background:#666;color:#eee;font:13px 'Noto Sans CJK SC';line-height:23px;text-align:right;border-top-right-radius:4px">屏幕共享&nbsp;</div>
<div class="t l" style="left:1688px;top:1066.5px;width:40px;height:21px;background:#5a5a5a;color:#eee;font:13px 'Liberation Sans';line-height:21px;border-top-left-radius:4px;padding-left:3px">2023/</div>`;
document.body.appendChild(overlay);
</script>
</body>
</html>
